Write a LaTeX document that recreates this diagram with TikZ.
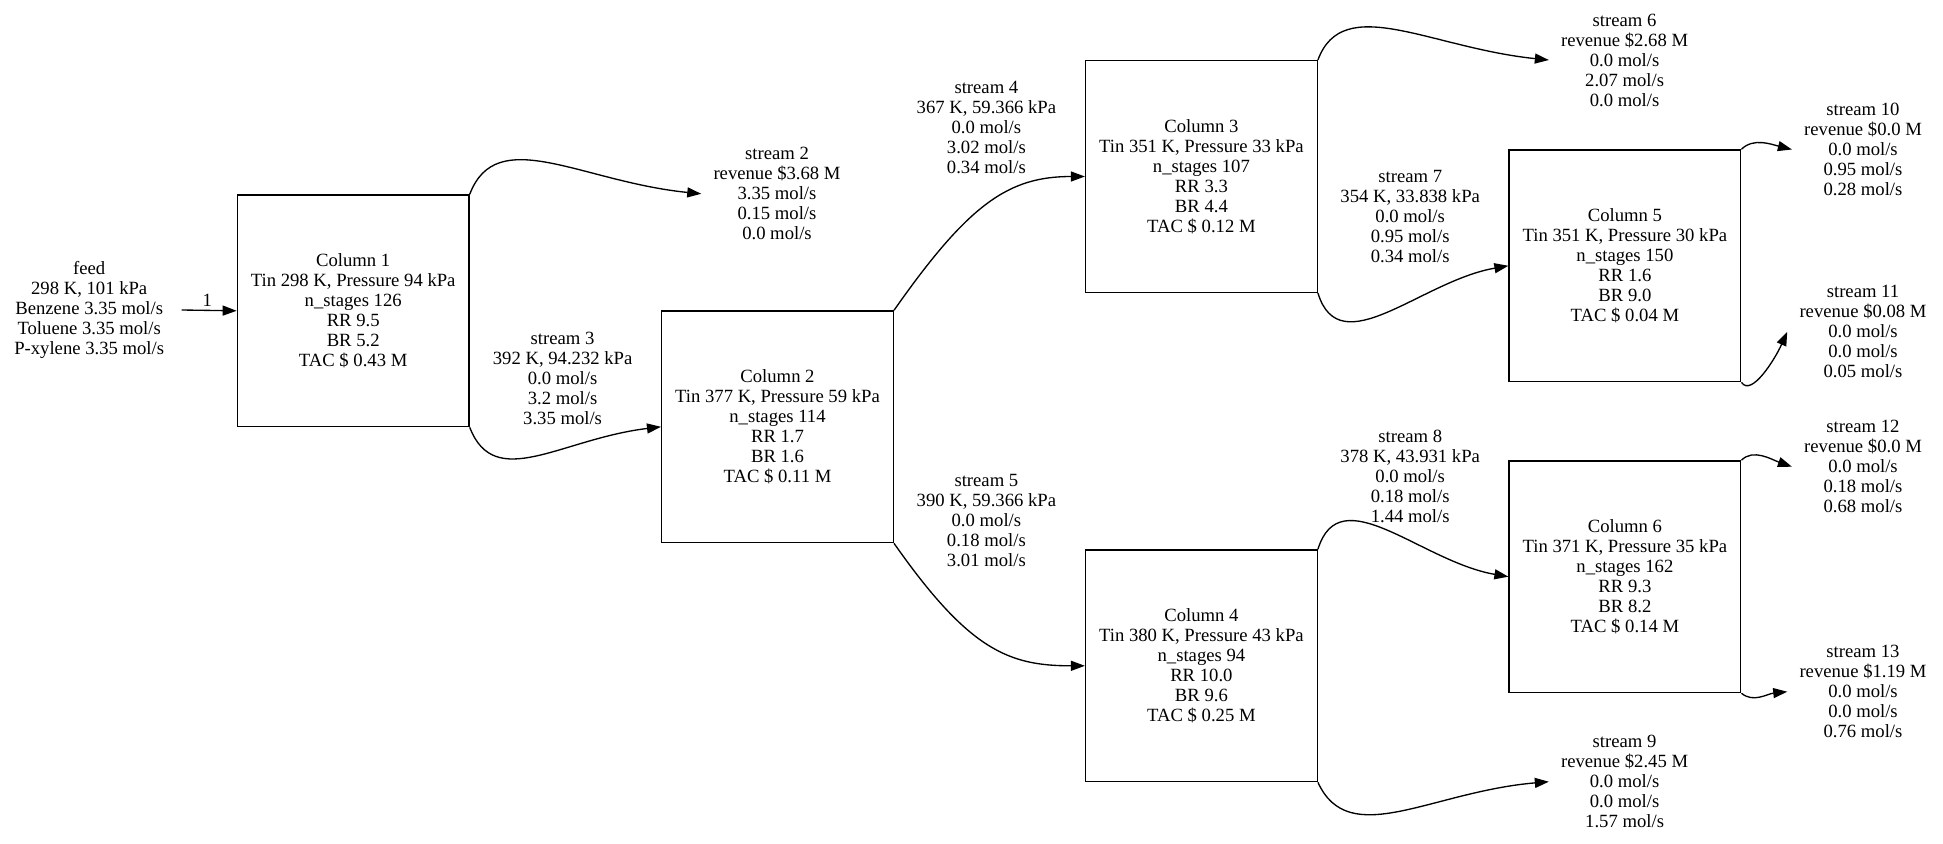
\documentclass[tikz,border=0pt]{standalone}
\usepackage{fontspec}
\setmainfont{Liberation Serif}
\usetikzlibrary{arrows.meta}
\begin{document}
\begin{tikzpicture}[x=0.75pt,y=-0.75pt,
  every node/.style={font=\fontsize{14}{15}\selectfont, align=center},
  colbox/.style={draw, line width=1pt, minimum width=173.8pt, minimum height=173.8pt, inner sep=0pt},
  txt/.style={inner xsep=9pt, inner ysep=2pt},
  lbl/.style={inner sep=0pt},
  flow/.style={line width=1pt, -{Triangle[length=10.5pt,width=7.5pt]}}]
\useasboundingbox (0,0) rectangle (1943,843);

% columns
\node[colbox] (C1) at (353.2,310.8) {Column 1\\Tin 298 K, Pressure 94 kPa\\n\_stages 126\\RR 9.5\\BR 5.2\\TAC \$ 0.43 M};
\node[colbox] (C2) at (777.5,426.8) {Column 2\\Tin 377 K, Pressure 59 kPa\\n\_stages 114\\RR 1.7\\BR 1.6\\TAC \$ 0.11 M};
\node[colbox] (C3) at (1201.4,176.5) {Column 3\\Tin 351 K, Pressure 33 kPa\\n\_stages 107\\RR 3.3\\BR 4.4\\TAC \$ 0.12 M};
\node[colbox] (C4) at (1201.4,665.8) {Column 4\\Tin 380 K, Pressure 43 kPa\\n\_stages 94\\RR 10.0\\BR 9.6\\TAC \$ 0.25 M};
\node[colbox] (C5) at (1624.9,265.8) {Column 5\\Tin 351 K, Pressure 30 kPa\\n\_stages 150\\RR 1.6\\BR 9.0\\TAC \$ 0.04 M};
\node[colbox] (C6) at (1624.9,576.7) {Column 6\\Tin 371 K, Pressure 35 kPa\\n\_stages 162\\RR 9.3\\BR 8.2\\TAC \$ 0.14 M};

% feed and product streams
\node[txt, inner xsep=13pt] (feed) at (89.2,310) {feed\\298 K, 101 kPa\\Benzene 3.35 mol/s\\Toluene 3.35 mol/s\\P-xylene 3.35 mol/s};
\node[txt] (s2) at (777,193.8) {stream 2\\revenue \$3.68 M\\3.35 mol/s\\0.15 mol/s\\0.0 mol/s};
\node[txt] (s6) at (1624.6,60) {stream 6\\revenue \$2.68 M\\0.0 mol/s\\2.07 mol/s\\0.0 mol/s};
\node[txt] (s9) at (1624.6,781.7) {stream 9\\revenue \$2.45 M\\0.0 mol/s\\0.0 mol/s\\1.57 mol/s};
\node[txt] (s10) at (1863,149.5) {stream 10\\revenue \$0.0 M\\0.0 mol/s\\0.95 mol/s\\0.28 mol/s};
\node[txt] (s11) at (1863,331.7) {stream 11\\revenue \$0.08 M\\0.0 mol/s\\0.0 mol/s\\0.05 mol/s};
\node[txt] (s12) at (1863,466.7) {stream 12\\revenue \$0.0 M\\0.0 mol/s\\0.18 mol/s\\0.68 mol/s};
\node[txt] (s13) at (1863,691.7) {stream 13\\revenue \$1.19 M\\0.0 mol/s\\0.0 mol/s\\0.76 mol/s};

% edge labels
\node[lbl] (l1) at (207.3,300) {1};
\node[lbl] (s3) at (562.6,378.7) {stream 3\\392 K, 94.232 kPa\\0.0 mol/s\\3.2 mol/s\\3.35 mol/s};
\node[lbl] (s4) at (986.4,127.2) {stream 4\\367 K, 59.366 kPa\\0.0 mol/s\\3.02 mol/s\\0.34 mol/s};
\node[lbl] (s5) at (986.4,520.5) {stream 5\\390 K, 59.366 kPa\\0.0 mol/s\\0.18 mol/s\\3.01 mol/s};
\node[lbl] (s7) at (1410.2,216.7) {stream 7\\354 K, 33.838 kPa\\0.0 mol/s\\0.95 mol/s\\0.34 mol/s};
\node[lbl] (s8) at (1410.2,476.7) {stream 8\\378 K, 43.931 kPa\\0.0 mol/s\\0.18 mol/s\\1.44 mol/s};

% connectors
\draw[flow] (feed.east) -- (C1.west);
\draw[flow] (C1.north east) .. controls +(27,-71) and +(-120,-12) .. (s2.west);
\draw[flow] (C1.south east) .. controls +(25,65) and +(-100,12) .. (C2.west);
\draw[flow] (C2.north east) .. controls +(75,-107) and +(-76,0) .. (C3.west);
\draw[flow] (C2.south east) .. controls +(75,107) and +(-76,0) .. (C4.west);
\draw[flow] (C3.north east) .. controls +(25,-68) and +(-118,-12) .. (s6.west);
\draw[flow] (C3.south east) .. controls +(22,72) and +(-87,15) .. (C5.west);
\draw[flow] (C4.north east) .. controls +(22,-72) and +(-87,-15) .. (C6.west);
\draw[flow] (C4.south east) .. controls +(31,68) and +(-118,10) .. (s9.west);
\draw[flow] (C5.north east) .. controls +(12,-12) and +(-20,-5) .. (s10.west);
\draw[flow] (C5.south east) .. controls +(10,15) and +(-12,27) .. (s11.west);
\draw[flow] (C6.north east) .. controls +(12,-12) and +(-20,-7) .. (s12.west);
\draw[flow] (C6.south east) .. controls +(12,10) and +(-20,2) .. (s13.west);
\end{tikzpicture}
\end{document}
